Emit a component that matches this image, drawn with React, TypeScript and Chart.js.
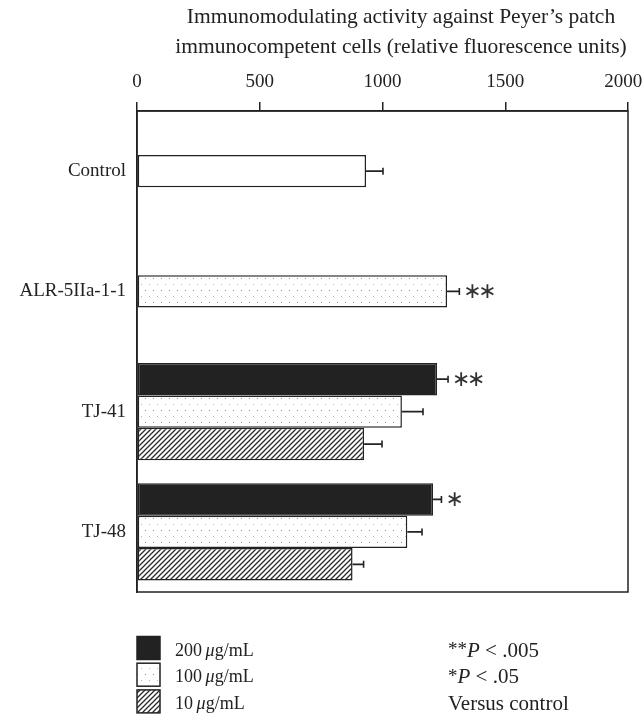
import React, { useEffect, useRef } from "react";
import { Chart, registerables } from "chart.js";

Chart.register(...registerables);

// ---------- data ----------
const categories = ["Control", "ALR-5IIa-1-1", "TJ-41", "TJ-48"];
const doseLabels = ["200", "100", "10"];
const doseUnit = "g/mL";
const values200 = [null, null, 1222, 1206];
const values100 = [933, 1263, 1079, 1101];
const values10 = [null, null, 925, 878];
const errors200 = [null, null, 45, 34];
const errors100 = [69, 50, 86, 60];
const errors10 = [null, null, 73, 45];
const stars200 = ["", "", "**", "*"];
const stars100 = ["", "**", "", ""];
const stars10 = ["", "", "", ""];
const xTicks = [0, 500, 1000, 1500, 2000];
const titleLines = [
  "Immunomodulating activity against Peyer\u2019s patch",
  "immunocompetent cells (relative fluorescence units)",
];
const noteStars = ["**", "*", ""];
const noteRest = [" < .005", " < .05", "Versus control"];

const FONT = "'Liberation Serif', 'DejaVu Serif', serif";
const INK = "#222";

function makeDots(ctx: CanvasRenderingContext2D) {
  const c = document.createElement("canvas");
  c.width = 8;
  c.height = 12;
  const g = c.getContext("2d")!;
  g.fillStyle = "#fff";
  g.fillRect(0, 0, 8, 12);
  g.fillStyle = "#8f8f8f";
  g.fillRect(1, 2, 1, 1);
  g.fillStyle = "#b8b8b8";
  g.fillRect(5, 8, 1, 1);
  return ctx.createPattern(c, "repeat")!;
}

function makeHatch(ctx: CanvasRenderingContext2D) {
  const c = document.createElement("canvas");
  c.width = 5;
  c.height = 5;
  const g = c.getContext("2d")!;
  g.fillStyle = "#fff";
  g.fillRect(0, 0, 5, 5);
  g.strokeStyle = "#2a2a2a";
  g.lineWidth = 1.3;
  g.beginPath();
  g.moveTo(0, 5);
  g.lineTo(5, 0);
  g.moveTo(-1, 1);
  g.lineTo(1, -1);
  g.moveTo(4, 6);
  g.lineTo(6, 4);
  g.stroke();
  return ctx.createPattern(c, "repeat")!;
}

type Part = { t: string; it?: boolean; size?: number; dy?: number };
function drawRich(ctx: CanvasRenderingContext2D, parts: Part[], x: number, y: number, size: number) {
  let cx = x;
  for (const p of parts) {
    const s = p.size || size;
    ctx.font = `${p.it ? "italic " : ""}${s}px ${FONT}`;
    ctx.fillText(p.t, cx, y + (p.dy || 0));
    cx += ctx.measureText(p.t).width;
  }
}

export default function App() {
  const ref = useRef<HTMLCanvasElement | null>(null);

  useEffect(() => {
    const canvas = ref.current!;
    const ctx0 = canvas.getContext("2d")!;
    const dots = makeDots(ctx0);
    const hatch = makeHatch(ctx0);
    const errs = [errors200, errors100, errors10];
    const stars = [stars200, stars100, stars10];
    const fills: any[] = [INK, dots, hatch];

    const decorations = {
      id: "decorations",
      afterDatasetsDraw(chart: any) {
        const ctx = chart.ctx as CanvasRenderingContext2D;
        const xs = chart.scales.x;
        const area = chart.chartArea;
        ctx.save();
        chart.data.datasets.forEach((ds: any, i: number) => {
          const meta = chart.getDatasetMeta(i);
          meta.data.forEach((el: any, j: number) => {
            const v = ds.data[j];
            const e = errs[i][j];
            if (v == null || e == null) return;
            const x0 = xs.getPixelForValue(v);
            const x1 = xs.getPixelForValue(v + e);
            const y = el.y;
            ctx.strokeStyle = INK;
            ctx.lineWidth = 1.6;
            ctx.beginPath();
            ctx.moveTo(x0, y);
            ctx.lineTo(x1, y);
            ctx.moveTo(x1, y - 3.5);
            ctx.lineTo(x1, y + 3.5);
            ctx.stroke();
            const s = stars[i][j];
            if (s) {
              ctx.fillStyle = "#333";
              ctx.font = `22px 'DejaVu Sans', sans-serif`;
              ctx.textBaseline = "middle";
              ctx.textAlign = "left";
              for (let k = 0; k < s.length; k++) {
                ctx.fillText("\u2217", x1 + 4 + k * 15, y + 1);
              }
            }
          });
        });
        ctx.strokeStyle = INK;
        ctx.lineWidth = 1.5;
        ctx.strokeRect(area.left, area.top, area.right - area.left, area.bottom - area.top);
        ctx.restore();
      },
      afterDraw(chart: any) {
        const ctx = chart.ctx as CanvasRenderingContext2D;
        const area = chart.chartArea;
        ctx.save();
        ctx.fillStyle = INK;
        ctx.textBaseline = "middle";
        ctx.textAlign = "center";
        ctx.font = `21.5px ${FONT}`;
        const cx = area.right - 227;
        titleLines.forEach((t, i) => ctx.fillText(t, cx, 17 + i * 30));
        ctx.textAlign = "left";
        for (let i = 0; i < doseLabels.length; i++) {
          const cy = area.bottom + 56 + i * 26.7;
          ctx.fillStyle = fills[i];
          ctx.fillRect(area.left, cy - 11.5, 23, 23);
          ctx.strokeStyle = INK;
          ctx.lineWidth = 1.5;
          ctx.strokeRect(area.left, cy - 11.5, 23, 23);
          ctx.fillStyle = INK;
          drawRich(
            ctx,
            [{ t: doseLabels[i] + "\u2009" }, { t: "\u03bc", it: true }, { t: doseUnit }],
            area.left + 38,
            cy + 3,
            18
          );
          const parts: Part[] = [];
          if (noteStars[i]) {
            parts.push({ t: noteStars[i], size: 19, dy: -1 });
            parts.push({ t: "P", it: true });
          }
          parts.push({ t: noteRest[i] });
          drawRich(ctx, parts, area.left + 311, cy + 3, 21);
        }
        ctx.restore();
      },
    };

    const chart = new Chart(canvas, {
      type: "bar",
      data: {
        labels: categories,
        datasets: [
          { label: doseLabels[0], data: values200 as any, backgroundColor: INK },
          {
            label: doseLabels[1],
            data: values100 as any,
            backgroundColor: (c: any) => (c.dataIndex === 0 ? "#fff" : dots),
          },
          { label: doseLabels[2], data: values10 as any, backgroundColor: hatch },
        ],
      },
      options: {
        indexAxis: "y",
        animation: false,
        responsive: true,
        maintainAspectRatio: false,
        events: [],
        layout: { padding: { top: 0, left: 0, right: 0, bottom: 127 } },
        datasets: {
          bar: {
            borderColor: INK,
            borderWidth: 1.5,
            borderSkipped: false,
            categoryPercentage: 0.81,
            barPercentage: 1,
          },
        },
        plugins: {
          legend: { display: false },
          tooltip: { enabled: false },
          title: { display: false },
        },
        scales: {
          x: {
            type: "linear",
            position: "top",
            min: 0,
            max: 2000,
            afterBuildTicks: (s: any) => {
              s.ticks = xTicks.map((v) => ({ value: v }));
            },
            afterFit: (s: any) => {
              s.height = 111;
              s.paddingRight = 15;
              s.paddingLeft = 0;
            },
            ticks: {
              font: { family: FONT, size: 19 },
              color: INK,
              padding: 9,
              callback: (v: any) => (v === xTicks[xTicks.length - 1] ? v + "\u2002" : "" + v),
            },
            grid: { drawOnChartArea: false, drawTicks: true, tickLength: 9, color: INK, lineWidth: 1.5 },
            border: { display: true, color: INK, width: 1.5 },
          },
          y: {
            type: "category",
            afterFit: (s: any) => {
              s.width = 137;
            },
            ticks: { font: { family: FONT, size: 19 }, color: INK, padding: 11 },
            grid: { display: false, drawTicks: false },
            border: { display: true, color: INK, width: 1.5 },
          },
        },
      },
      plugins: [decorations],
    } as any);
    return () => chart.destroy();
  }, []);

  return (
    <div style={{ position: "fixed", left: 0, top: 0, width: 643, height: 719, background: "#fff" }}>
      <canvas ref={ref} />
    </div>
  );
}
